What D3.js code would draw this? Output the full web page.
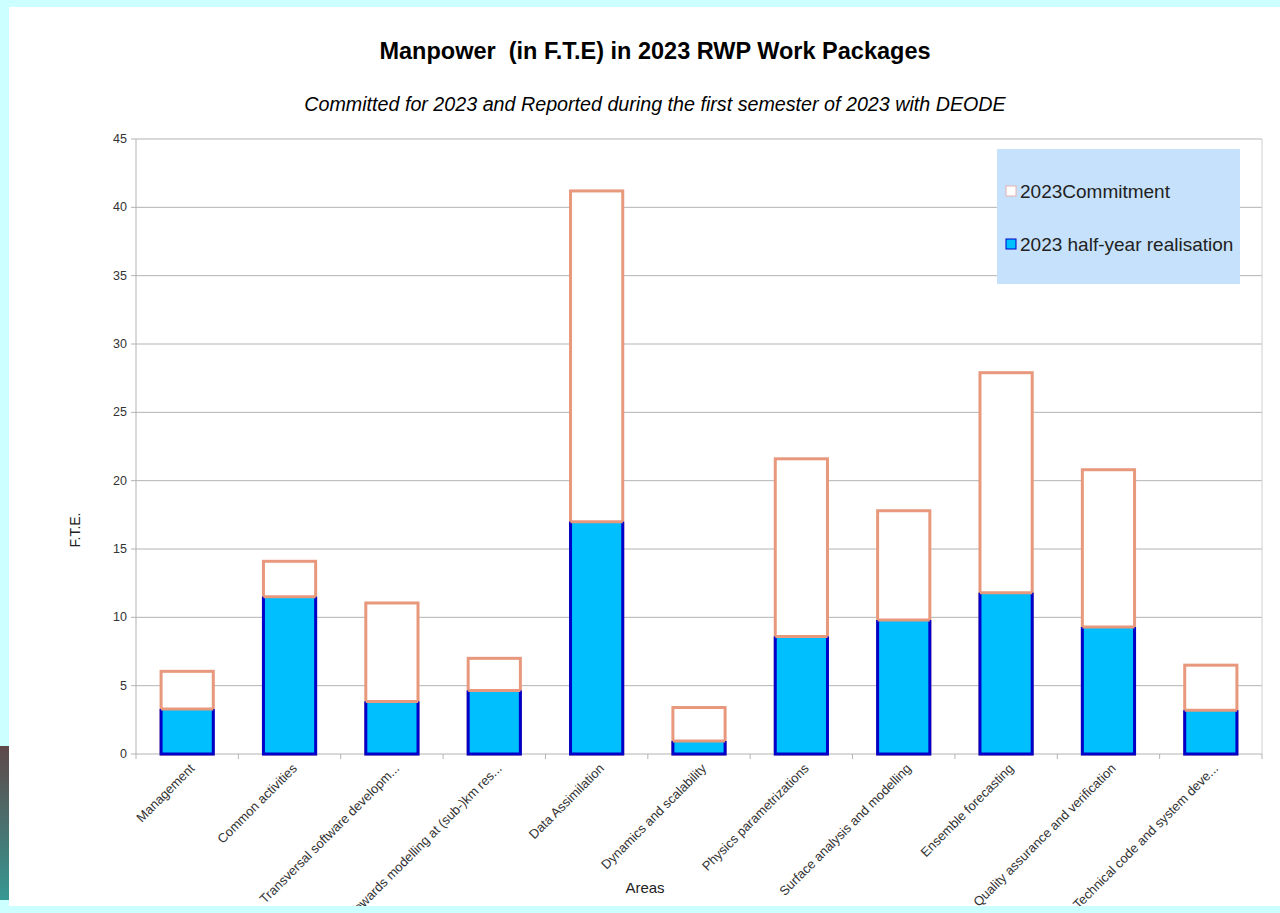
<!DOCTYPE html>
<html>
<head>
<meta charset="utf-8">
<script src="https://cdn.jsdelivr.net/npm/d3@7"></script>
<style>
  body { margin: 0; background: #ccffff; }
  svg { display: block; font-family: "Liberation Sans", Arial, sans-serif; }
</style>
</head>
<body>
<svg id="chart" width="1280" height="913"></svg>
<script>
// data
const areas = [
    "Management", "Common activities", "Transversal software developm...",
    "Towards modelling at (sub-)km res...", "Data Assimilation",
    "Dynamics and scalability", "Physics parametrizations",
    "Surface analysis and modelling", "Ensemble forecasting",
    "Quality assurance and verification", "Technical code and system deve..."
];
const commitment = [6.05, 14.1, 11.05, 7.0, 41.2, 3.4, 21.6, 17.8, 27.9, 20.8, 6.5];
const realisation = [3.3, 11.5, 3.85, 4.65, 17.0, 0.95, 8.6, 9.8, 11.8, 9.3, 3.2];
const yTicks = [0, 5, 10, 15, 20, 25, 30, 35, 40, 45];
const seriesNames = ["2023Commitment", "2023 half-year realisation"];

const svg = d3.select("#chart");
let defs = svg.append("defs");

// white page panel + decorations of the slide
const panel = {x: 9, y: 7, w: 1271, h: 899};
svg.append("rect").attr("x", panel.x).attr("y", panel.y).attr("width", panel.w).attr("height", panel.h).style("fill", "#ffffff");
defs.append("clipPath").attr("id", "panelclip").append("rect")
    .attr("x", panel.x).attr("y", panel.y).attr("width", panel.w).attr("height", panel.h);
let grad = defs.append("linearGradient").attr("id", "sidebar")
    .attr("x1", 0).attr("y1", 0).attr("x2", 0).attr("y2", 1);
grad.append("stop").attr("offset", "0%").attr("stop-color", "#5e4848");
grad.append("stop").attr("offset", "100%").attr("stop-color", "#379893");
svg.append("rect").attr("x", 0).attr("y", 746).attr("width", 9).attr("height", 154).style("fill", "url(#sidebar)");

const plot = {left: 136, right: 1262, top: 139, bottom: 754};

let x = d3.scaleBand().domain(areas).range([plot.left, plot.right]);
let y = d3.scaleLinear().domain([0, 45]).range([plot.bottom, plot.top]);
const barW = x.bandwidth() * 0.51;

// gridlines
svg.append("g").selectAll("line").data(yTicks).join("line")
    .attr("x1", plot.left - 5).attr("x2", plot.right)
    .attr("y1", d => y(d)).attr("y2", d => y(d))
    .style("stroke", "#b3b3b3").style("stroke-width", 1);

// y axis line
svg.append("line").attr("x1", plot.left).attr("x2", plot.left)
    .attr("y1", plot.top).attr("y2", plot.bottom)
    .style("stroke", "#b3b3b3");
svg.append("line").attr("x1", plot.right).attr("x2", plot.right)
    .attr("y1", plot.top).attr("y2", plot.bottom)
    .style("stroke", "#d0d0d0");

// y tick labels
svg.append("g").selectAll("text").data(yTicks).join("text")
    .attr("x", plot.left - 9).attr("y", d => y(d))
    .attr("text-anchor", "end").attr("dominant-baseline", "central")
    .style("font-size", "12.5px").style("fill", "#333")
    .text(d => d);

// category ticks at band boundaries
let bounds = areas.map(a => x(a)).concat([plot.right]);
svg.append("g").selectAll("line").data(bounds).join("line")
    .attr("x1", d => d).attr("x2", d => d)
    .attr("y1", plot.bottom).attr("y2", plot.bottom + 5)
    .style("stroke", "#b3b3b3");

// commitment bars (behind)
let cx = (d, i) => x(areas[i]) + x.bandwidth() / 2;
svg.append("g").selectAll("rect").data(commitment).join("rect")
    .attr("x", (d, i) => cx(d, i) - barW / 2)
    .attr("y", d => y(d))
    .attr("width", barW)
    .attr("height", d => y(0) - y(d))
    .style("fill", "#ffffff")
    .style("stroke", "#e8987c")
    .style("stroke-width", 3);

// realisation bars (in front)
let real = svg.append("g");
real.selectAll("rect").data(realisation).join("rect")
    .attr("x", (d, i) => cx(d, i) - barW / 2)
    .attr("y", d => y(d))
    .attr("width", barW)
    .attr("height", d => y(0) - y(d))
    .style("fill", "#00bfff");
real.selectAll("path").data(realisation).join("path")
    .attr("d", (d, i) => {
        let x0 = cx(d, i) - barW / 2, x1 = cx(d, i) + barW / 2;
        return "M" + x0 + "," + y(d) + "V" + y(0) + "H" + x1 + "V" + y(d);
    })
    .style("fill", "none")
    .style("stroke", "#0000c8")
    .style("stroke-width", 3);
real.selectAll("line").data(realisation).join("line")
    .attr("x1", (d, i) => cx(d, i) - barW / 2)
    .attr("x2", (d, i) => cx(d, i) + barW / 2)
    .attr("y1", d => y(d)).attr("y2", d => y(d))
    .style("stroke", "#e8987c")
    .style("stroke-width", 3);

// x labels, rotated (the slide cuts the long ones at its lower edge)
svg.append("g").attr("clip-path", "url(#panelclip)")
    .selectAll("text").data(areas).join("text")
    .attr("transform", (d, i) => "translate(" + (cx(d, i) + 5) + "," + (plot.bottom + 12) + ") rotate(-45)")
    .attr("text-anchor", "end")
    .attr("dy", "0.35em")
    .style("font-size", "13px").style("fill", "#333")
    .text(d => d);

// titles
svg.append("text").attr("x", 655).attr("y", 59).attr("text-anchor", "middle")
    .style("font-size", "23.5px").style("font-weight", "bold").style("white-space", "pre")
    .text("Manpower  (in F.T.E) in 2023 RWP Work Packages");
svg.append("text").attr("x", 655).attr("y", 111).attr("text-anchor", "middle")
    .style("font-size", "19.7px").style("font-style", "italic")
    .text("Committed for 2023 and Reported during the first semester of 2023 with DEODE");

// axis titles
svg.append("text").attr("transform", "translate(80,530) rotate(-90)")
    .attr("text-anchor", "middle")
    .style("font-size", "14px").style("fill", "#222")
    .text("F.T.E.");
svg.append("text").attr("x", 645).attr("y", 893).attr("text-anchor", "middle")
    .style("font-size", "15px").style("fill", "#222")
    .text("Areas");

// legend
let legend = svg.append("g");
legend.append("rect").attr("x", 997).attr("y", 149).attr("width", 243).attr("height", 135)
    .style("fill", "#c6e1fb");
let items = legend.selectAll("g").data(seriesNames).join("g")
    .attr("transform", (d, i) => "translate(1006," + (191 + i * 53) + ")");
items.append("rect").attr("x", 0).attr("y", -5).attr("width", 10).attr("height", 10)
    .style("fill", (d, i) => i === 0 ? "#ffffff" : "#00bfff")
    .style("stroke", (d, i) => i === 0 ? "#e8b0b0" : "#0000c8")
    .style("stroke-width", 1);
items.append("text").attr("x", 14).attr("y", 0)
    .attr("dominant-baseline", "central")
    .style("font-size", "19px").style("fill", "#222")
    .text(d => d);
</script>
</body>
</html>
